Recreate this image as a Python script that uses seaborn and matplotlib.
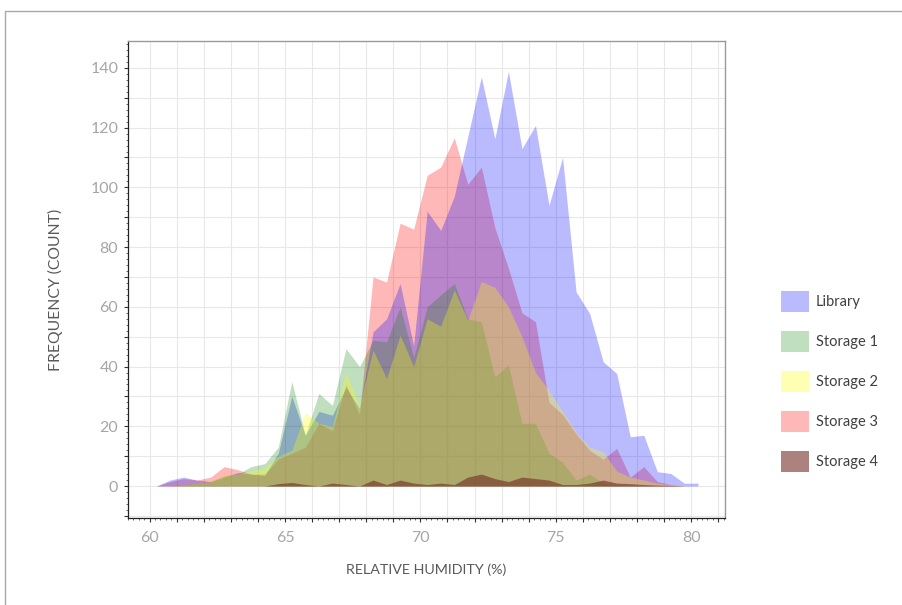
import numpy as np
import pandas as pd
import seaborn as sns
import matplotlib
matplotlib.use("Agg")
import matplotlib.pyplot as plt
from matplotlib.patches import Patch, Rectangle
from matplotlib.ticker import MultipleLocator, FuncFormatter

# ---------------- data ----------------
humidity = [60.25, 60.75, 61.25, 61.75, 62.25, 62.75, 63.25, 63.75, 64.25, 64.75,
            65.25, 65.75, 66.25, 66.75, 67.25, 67.75, 68.25, 68.75, 69.25, 69.75,
            70.25, 70.75, 71.25, 71.75, 72.25, 72.75, 73.25, 73.75, 74.25, 74.75,
            75.25, 75.75, 76.25, 76.75, 77.25, 77.75, 78.25, 78.75, 79.25, 79.75,
            80.25]

library = [0, 2, 3, 2, 1.5, 3, 4.5, 4, 3.5, 11,
           30, 17, 25, 23.7, 33, 26, 51.6, 56, 67.8, 47,
           92, 85.6, 97, 117, 137, 116.3, 138.8, 113, 120.7, 94,
           110, 65, 57.8, 41.6, 37.7, 16.5, 17, 4.8, 4.2, 0.9,
           1]

storage1 = [0, 0, 0.5, 1, 1.5, 3.5, 4, 6.5, 7.5, 13,
            35, 17, 31, 27, 46, 40, 48.8, 48.3, 60, 43,
            60, 64, 67.8, 56, 55, 36.6, 40.5, 21, 21, 11,
            8, 2, 4, 1, 0.5, 0.3, 0.2, 0, 0, 0,
            0]

storage2 = [0, 0, 0.5, 1, 1.5, 3.5, 4, 5, 6, 10,
            12, 24.5, 21, 20, 38, 27, 45.5, 36, 50.5, 40,
            56, 53.5, 65.6, 55.5, 68.5, 66.5, 60, 50, 38, 32,
            25, 18, 13, 11.5, 5, 3, 2, 1, 0.5, 0,
            0]

storage3 = [0, 1.5, 2.5, 2, 3, 6.5, 5.5, 4, 4, 9,
            11, 13, 21, 18.5, 34, 24, 70, 68.3, 88, 86,
            104, 106.8, 116.6, 101, 106.8, 86.5, 73, 58, 55, 28,
            24, 17.5, 12, 9, 12.6, 3, 6.5, 1.5, 0.5, 0,
            0]

storage4 = [0, 0, 0, 0, 0, 0, 0, 0, 0, 0.8,
            1.2, 0.5, 0, 1, 0.5, 0, 2, 0.5, 2, 1,
            0.5, 1, 0.5, 3, 4, 2.5, 1.5, 3, 2.5, 2,
            0.5, 0.5, 1, 2, 1, 0.8, 0.5, 0.3, 0.2, 0,
            0]

series_names = ["Library", "Storage 1", "Storage 2", "Storage 3", "Storage 4"]
series_values = [library, storage1, storage2, storage3, storage4]

x_tick_labels = [60, 65, 70, 75, 80]
y_tick_labels = [0, 20, 40, 60, 80, 100, 120, 140]

# ---------------- style ----------------
colors = {"Library": ("#0000ff", 0.27),
          "Storage 1": ("#008000", 0.25),
          "Storage 2": ("#ffff00", 0.30),
          "Storage 3": ("#ff0000", 0.28),
          "Storage 4": ("#702822", 0.58)}
draw_order = ["Storage 3", "Library", "Storage 1", "Storage 2", "Storage 4"]

sns.set_theme(style="white")
plt.rcParams["font.family"] = ["Lato", "DejaVu Sans"]

df = pd.DataFrame({"humidity": humidity})
for name, vals in zip(series_names, series_values):
    df[name] = vals
long = df.melt(id_vars="humidity", var_name="series", value_name="count")

fig = plt.figure(figsize=(9.03, 6.05), dpi=100)
ax = fig.add_axes([128 / 903, 1 - 518 / 605, (725 - 128) / 903, (518 - 41) / 605])

# invisible seaborn line layer (registers data on the axes)
sns.lineplot(data=long, x="humidity", y="count", hue="series", ax=ax,
             linewidth=0, legend=False, palette=[colors[n][0] for n in series_names],
             hue_order=series_names)

for name in draw_order:
    c, a = colors[name]
    ax.fill_between(df["humidity"], 0, df[name], color=c, alpha=a, linewidth=0, zorder=2)

ax.set_xlim(59.2, 81.25)
ax.set_ylim(-10.7, 149)

ax.xaxis.set_major_locator(MultipleLocator(1))
ax.xaxis.set_minor_locator(MultipleLocator(0.2))
ax.yaxis.set_major_locator(MultipleLocator(10))
ax.yaxis.set_minor_locator(MultipleLocator(2))
ax.xaxis.set_major_formatter(FuncFormatter(
    lambda v, p: f"{int(round(v))}" if int(round(v)) in x_tick_labels and abs(v - round(v)) < 1e-6 else ""))
ax.yaxis.set_major_formatter(FuncFormatter(
    lambda v, p: f"{int(round(v))}" if int(round(v)) in y_tick_labels and abs(v - round(v)) < 1e-6 else ""))

ax.grid(True, which="major", color="#e8e8e8", linewidth=0.8, zorder=0)
ax.set_axisbelow(True)

ax.tick_params(axis="both", which="major", direction="out", length=3, width=0.8,
               color="#333333", labelcolor="#a6a6a6", labelsize=11.5)
ax.tick_params(axis="y", which="major", pad=4)
ax.tick_params(axis="x", which="major", pad=6)
ax.tick_params(axis="both", which="minor", direction="out", length=1.5, width=0.6,
               color="#555555")
ax.tick_params(axis="x", which="both", bottom=True, top=False)
ax.tick_params(axis="y", which="both", left=True, right=False)

for side in ["left", "bottom"]:
    ax.spines[side].set_color("#222222")
    ax.spines[side].set_linewidth(0.9)
for side in ["top", "right"]:
    ax.spines[side].set_color("#9a9a9a")
    ax.spines[side].set_linewidth(1.0)

ax.set_xlabel("RELATIVE HUMIDITY (%)", fontsize=10.3, color="#595959", labelpad=14)
ax.set_ylabel("FREQUENCY (COUNT)", fontsize=11.3, color="#595959")
ax.yaxis.set_label_coords(-0.109, 0.478)

handles = [Patch(facecolor=colors[n][0], alpha=colors[n][1], edgecolor="none") for n in series_names]
fig.legend(handles, series_names, loc="upper left", bbox_to_anchor=(781 / 903, 1 - 291 / 605),
           frameon=False, fontsize=10.5, handlelength=1.9, handleheight=1.8,
           labelspacing=1.33, handletextpad=0.5, borderpad=0, borderaxespad=0,
           labelcolor="#404040")

fig.add_artist(Rectangle((5 / 903, -0.1), 1.2, (1 - 11 / 605) + 0.1, transform=fig.transFigure,
                         fill=False, edgecolor="#a8a8a8", linewidth=1.0))

fig.savefig("out.png", dpi=100)
